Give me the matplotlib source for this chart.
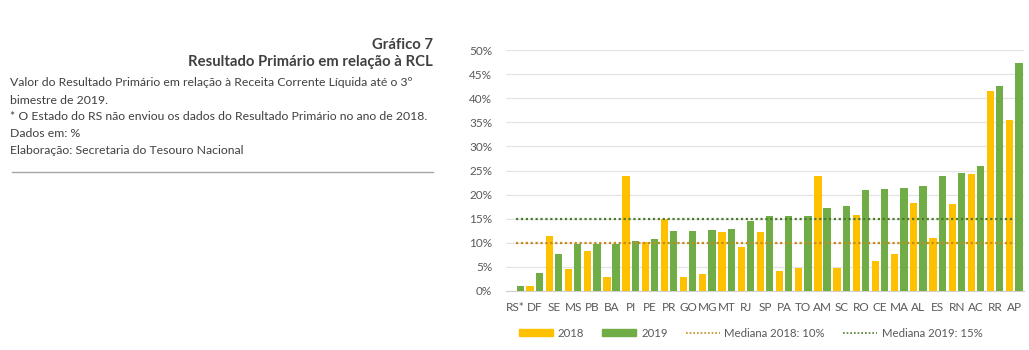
import numpy as np
import matplotlib.pyplot as plt
from matplotlib.lines import Line2D
from matplotlib.patches import Patch

plt.rcParams['font.family'] = ['Lato', 'DejaVu Sans']

# data (% of RCL)
estados = ['RS*', 'DF', 'SE', 'MS', 'PB', 'BA', 'PI', 'PE', 'PR', 'GO', 'MG', 'MT', 'RJ', 'SP',
           'PA', 'TO', 'AM', 'SC', 'RO', 'CE', 'MA', 'AL', 'ES', 'RN', 'AC', 'RR', 'AP']
v2018 = [0.0, 1.1, 11.5, 4.6, 8.3, 2.8, 23.9, 10.1, 14.9, 2.8, 3.6, 12.2, 9.1, 12.2,
         4.2, 4.7, 23.9, 4.8, 15.7, 6.3, 7.6, 18.2, 11.1, 18.0, 24.2, 41.6, 35.5]
v2019 = [1.1, 3.8, 7.7, 9.7, 9.7, 9.7, 10.4, 10.7, 12.5, 12.5, 12.7, 12.9, 14.6, 15.5,
         15.6, 15.6, 17.2, 17.6, 21.0, 21.2, 21.4, 21.8, 23.8, 24.5, 25.9, 42.5, 47.3]
mediana_2018 = 10
mediana_2019 = 15

c18 = '#FFC000'
c19 = '#70AD47'
cm18 = '#C58A1A'
cm19 = '#4E7A2E'
txt = '#595959'

fig = plt.figure(figsize=(10.29, 3.5), dpi=100)
ax = fig.add_axes([0.4917, 0.1686, 0.5034, 0.6884])

x = np.arange(len(estados))
w = 0.38
off = 0.24
ax.bar(x - off, v2018, w, color=c18, zorder=3)
ax.bar(x + off, v2019, w, color=c19, zorder=3)
ax.plot([x[0], x[-1]], [mediana_2018] * 2, ls=(0, (1, 1.2)), lw=1.6, color=cm18, zorder=4)
ax.plot([x[0], x[-1]], [mediana_2019] * 2, ls=(0, (1, 1.2)), lw=1.6, color=cm19, zorder=4)

ax.set_xlim(-0.5, len(estados) - 0.5)
ax.set_ylim(0, 50)
ax.set_yticks(np.arange(0, 51, 5))
ax.set_yticklabels([f'{v}%' for v in range(0, 51, 5)])
ax.set_xticks(x)
ax.set_xticklabels(estados)
ax.tick_params(length=0, labelsize=8.5, colors=txt)
ax.tick_params(axis='y', pad=10)
ax.tick_params(axis='x', pad=8)
ax.grid(axis='y', color='#E4E4E4', lw=0.9, zorder=0)
for s in ['top', 'right', 'left']:
    ax.spines[s].set_visible(False)
ax.spines['bottom'].set_color('#D0D0D0')

handles = [Patch(color=c18, label='2018'),
           Patch(color=c19, label='2019'),
           Line2D([], [], ls=(0, (1, 1.2)), lw=1.2, color=cm18, label='Mediana 2018: 10%'),
           Line2D([], [], ls=(0, (1, 1.2)), lw=1.2, color=cm19, label='Mediana 2019: 15%')]
leg = fig.legend(handles=handles, ncol=4, loc='center left', bbox_to_anchor=(519 / 1029, 0.048),
                 frameon=False, fontsize=8.2, handlelength=3.0, handleheight=0.5,
                 columnspacing=1.6, handletextpad=0.4, borderaxespad=0, borderpad=0)
for t in leg.get_texts():
    t.set_color(txt)

# left text block
fig.text(433 / 1029, 1 - 45 / 350, 'Gráfico 7', ha='right', va='center',
         fontsize=10.7, fontweight='bold', color='#404040')
fig.text(433 / 1029, 1 - 62 / 350, 'Resultado Primário em relação à RCL', ha='right', va='center',
         fontsize=10.7, fontweight='bold', color='#404040')
linhas = ['Valor do Resultado Primário em relação à Receita Corrente Líquida até o 3º',
          'bimestre de 2019.',
          '* O Estado do RS não enviou os dados do Resultado Primário no ano de 2018.',
          'Dados em: %',
          'Elaboração: Secretaria do Tesouro Nacional']
ys = [83, 100, 117, 134, 150]
for s, yy in zip(linhas, ys):
    fig.text(10 / 1029, 1 - yy / 350, s, ha='left', va='center', fontsize=8.8, color='#404040')
fig.add_artist(Line2D([12 / 1029, 433 / 1029], [1 - 172 / 350] * 2, color='#A6A6A6', lw=1))

fig.savefig('out.png', dpi=100)
